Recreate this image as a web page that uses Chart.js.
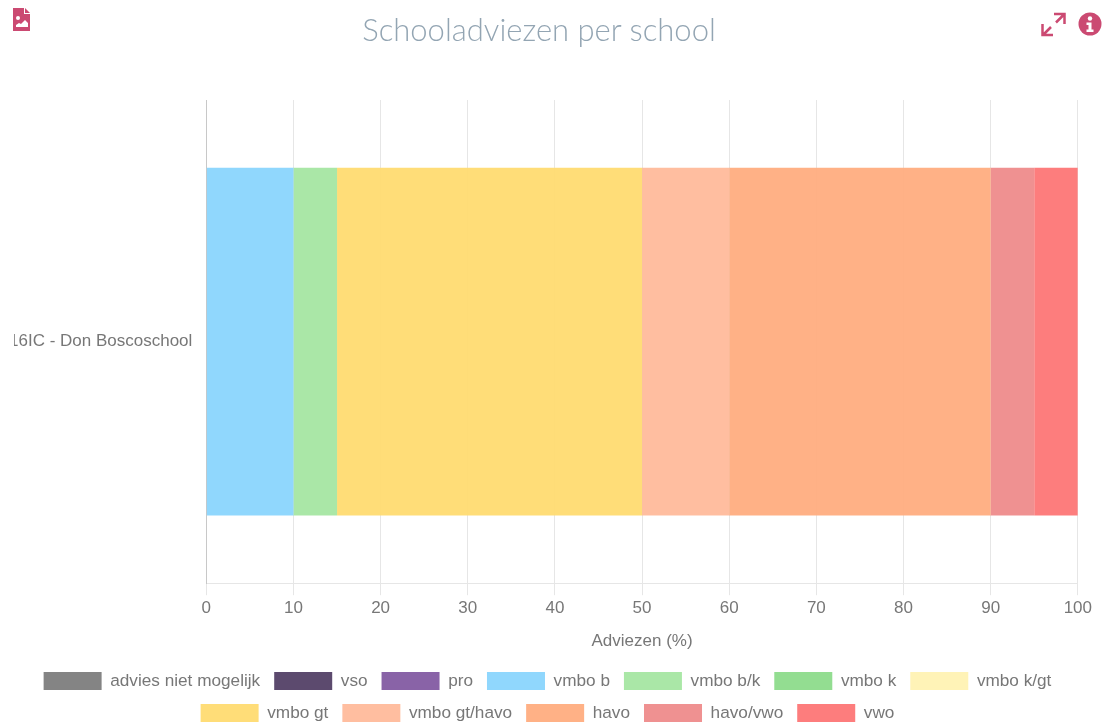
<!DOCTYPE html>
<html>
<head>
<meta charset="utf-8">
<title>Schooladviezen per school</title>
<script src="https://cdn.jsdelivr.net/npm/chart.js@4/dist/chart.umd.min.js"></script>
<style>
  html, body { margin: 0; padding: 0; background: #fff; overflow: hidden; }
  #wrap { position: relative; width: 1102px; height: 724px; overflow: hidden; }
  #chartBox { position: absolute; left: 0; top: 0; width: 1095px; height: 732px; }
  #leftMask { position: absolute; left: 0; top: 320px; width: 14px; height: 40px; background: #fff; }
  h1 { position: absolute; left: 0; top: 10px; width: 1078px; margin: 0; text-align: center;
       font: 300 31px Lato, sans-serif; color: #93a5b3; }
  svg { position: absolute; fill: #cb4a72; }
</style>
</head>
<body>
<div id="wrap">
  <div id="chartBox"><canvas id="chart"></canvas></div>
  <div id="leftMask"></div>
  <h1>Schooladviezen per school</h1>
  <svg style="left:13px;top:8px" width="18" height="24" viewBox="0 0 18 24">
    <path d="M0 0h11v6h6v17H0z"/><path d="M12 0l5 5h-5z"/>
    <circle cx="5" cy="10" r="2" fill="#fff"/><path d="M3 19v-2l3-2 2 1 4-4 3 3v4z" fill="#fff"/>
  </svg>
  <svg style="left:1041px;top:12px" width="25" height="25" viewBox="0 0 25 25">
    <path d="M13 2H23.5V12M23 2.5L15 10.5M1.5 12V23H12M2 23L10 15" fill="none" stroke="#cb4a72" stroke-width="2.5"/>
  </svg>
  <svg style="left:1078px;top:12px" width="24" height="24" viewBox="0 0 24 24">
    <circle cx="12" cy="12" r="11.5"/>
    <circle cx="12" cy="6.5" r="2.2" fill="#fff"/><path d="M8.5 10.5h5v7h2v2.5h-7v-2.5h2v-4.5h-2z" fill="#fff"/>
  </svg>
</div>
<script>
const schools = ["16IC - Don Boscoschool"]
const adviezen = ["advies niet mogelijk", "vso", "pro", "vmbo b", "vmbo b/k", "vmbo k", "vmbo k/gt", "vmbo gt", "vmbo gt/havo", "havo", "havo/vwo", "vwo"]
const percentages = [0, 0, 0, 10, 5, 0, 0, 35, 10, 30, 5, 5]
const colors = ["#7c7c7c", "#523f65", "#8259a2", "#89d4fd", "#a5e6a2", "#8cdb8a", "#fff2b2", "#ffdb70", "#ffba9a", "#ffac7e", "#ee8a8a", "#fd7575"]
const tickColor = "#777"
const fontFamily = "Liberation Sans"

const datasets = adviezen.map((label, i) => ({
  label,
  data: [percentages[i]],
  backgroundColor: colors[i] + "f0",
  borderWidth: 0
}))

// the legend sits a bit right of the plot centre in the original
const legendShift = {
  id: "legendShift",
  afterLayout(chart) {
    chart.legend.left += 7
    chart.legend.right += 7
  }
}

new Chart(document.getElementById("chart"), {
  type: "bar",
  data: { labels: schools, datasets },
  plugins: [legendShift],
  options: {
    indexAxis: "y",
    responsive: true,
    maintainAspectRatio: false,
    animation: false,
    layout: { padding: { top: 100, right: 17, bottom: 0, left: 3 } },
    datasets: { bar: { categoryPercentage: 0.8, barPercentage: 0.9 } },
    scales: {
      x: {
        stacked: true,
        min: 0,
        max: 100,
        ticks: { stepSize: 10, color: tickColor, font: { family: fontFamily, size: 17 } },
        grid: { color: "#e6e6e6", tickLength: 12 },
        border: { color: "#e6e6e6" },
        title: { display: true, text: "Adviezen (%)", color: tickColor, font: { family: fontFamily, size: 17 }, padding: { top: 10, bottom: 6 } }
      },
      y: {
        stacked: true,
        ticks: { color: tickColor, padding: 6, font: { family: fontFamily, size: 17 } },
        grid: { display: false },
        border: { color: "#c8c8c8" }
      }
    },
    plugins: {
      legend: {
        position: "bottom",
        labels: {
          boxWidth: 58,
          boxHeight: 18,
          padding: 14,
          color: tickColor,
          font: { family: fontFamily, size: 17.2 }
        }
      },
      tooltip: { enabled: false }
    }
  }
})
</script>
</body>
</html>
